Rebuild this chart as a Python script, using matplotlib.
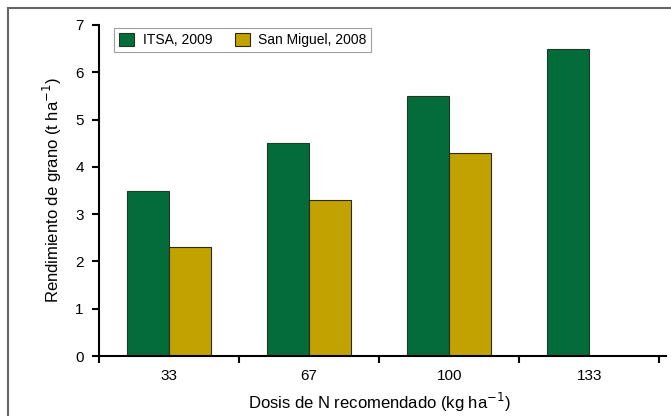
import matplotlib.pyplot as plt
import numpy as np
from matplotlib.lines import Line2D

plt.rcParams['font.family'] = ['Liberation Sans', 'DejaVu Sans']

doses = ['33', '67', '100', '133']
itsa_2009 = [3.5, 4.5, 5.5, 6.5]
san_miguel_2008 = [2.3, 3.3, 4.3, np.nan]

green = '#046c3a'
gold = '#c2a200'

fig = plt.figure(figsize=(6.71, 4.16), dpi=100)
ax = fig.add_axes([0.1475, 0.144, 0.835, 0.796])

x = np.arange(len(doses))
w = 0.3
ax.bar(x - w / 2, itsa_2009, w, color=green, edgecolor='#1e3a25', linewidth=0.8,
       label='ITSA, 2009')
ax.bar(x + w / 2, san_miguel_2008, w, color=gold, edgecolor='#2a2a10', linewidth=0.8,
       label='San Miguel, 2008')

ax.set_xlim(-0.5, 3.5)
ax.set_ylim(0, 7)
ax.set_yticks(range(0, 8))
ax.tick_params(axis='y', labelsize=11, length=5, width=1.5, pad=6)

# ticks between groups, labels centred under groups
ax.set_xticks(np.arange(-0.5, 4, 1))
ax.set_xticklabels([])
ax.set_xticks(x, minor=True)
ax.set_xticklabels(doses, minor=True, fontsize=11)
ax.tick_params(axis='x', which='major', length=5, width=1.5, direction='out')
ax.tick_params(axis='x', which='minor', length=0, pad=9)

for s in ['top', 'right']:
    ax.spines[s].set_visible(False)
ax.spines['left'].set_linewidth(1.5)
ax.spines['bottom'].set_linewidth(1.5)
ax.spines['bottom'].set_bounds(-0.5, 3.55)
ax.spines['bottom'].set_clip_on(False)

ax.set_ylabel('Rendimiento de grano (t ha$^{-1}$)', fontsize=12, labelpad=8)
ax.set_xlabel('Dosis de N recomendado (kg ha$^{-1}$)', fontsize=12, labelpad=6)

leg = ax.legend(loc='upper left', ncol=2, fontsize=10, frameon=True, fancybox=False,
                edgecolor='#888888', handlelength=1.1, handleheight=1.1,
                handletextpad=0.6, columnspacing=1.6,
                bbox_to_anchor=(0.015, 1.012), borderpad=0.35)
leg.get_frame().set_linewidth(0.8)

# outer frame of the figure
fig.add_artist(Line2D([0.012, 1.0], [0.981, 0.981], transform=fig.transFigure,
                      color='#666666', linewidth=1.5))
fig.add_artist(Line2D([0.012, 0.012], [0.0, 0.981], transform=fig.transFigure,
                      color='#666666', linewidth=1.5))

fig.savefig('out.png', dpi=100)
